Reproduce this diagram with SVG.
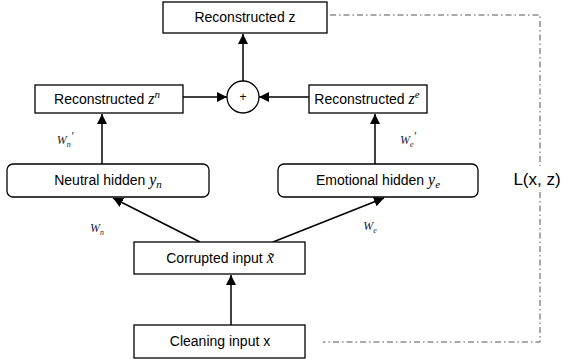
<svg xmlns="http://www.w3.org/2000/svg" width="562" height="362" viewBox="0 0 562 362">
<defs>
<marker id="ah" viewBox="0 0 10 10" refX="10" refY="5" markerWidth="10" markerHeight="10" markerUnits="userSpaceOnUse" orient="auto">
<path d="M0,0 L10,5 L0,10 Z" fill="#000"/>
</marker>
</defs>
<style>
.box{fill:#fff;stroke:#000;stroke-width:1.3}
.t{font-family:"Liberation Sans",Arial,sans-serif;font-size:14px;fill:#000;text-anchor:middle}
.m{font-family:"Liberation Serif","Times New Roman",serif;font-style:italic}
.lbl{font-family:"Liberation Serif","Times New Roman",serif;font-style:italic;font-size:12px;fill:#223;text-anchor:middle}
.c{stroke:#000;stroke-width:1.5;fill:none}
.dd{stroke:#555;stroke-width:1;fill:none;stroke-dasharray:6,3,1.5,3}
</style>
<g id="connectors">
<line class="c" x1="243" y1="81" x2="243" y2="34" marker-end="url(#ah)"/>
<line class="c" x1="183" y1="97" x2="227" y2="97" marker-end="url(#ah)"/>
<line class="c" x1="309" y1="97" x2="259" y2="97" marker-end="url(#ah)"/>
<line class="c" x1="102" y1="164" x2="102" y2="114" marker-end="url(#ah)"/>
<line class="c" x1="375" y1="164" x2="375" y2="114" marker-end="url(#ah)"/>
<line class="c" x1="200" y1="242" x2="113" y2="198" marker-end="url(#ah)"/>
<line class="c" x1="273" y1="242" x2="384" y2="198" marker-end="url(#ah)"/>
<line class="c" x1="231" y1="325" x2="231" y2="275" marker-end="url(#ah)"/>
<path class="dd" d="M330,15 H540 V166"/>
<path class="dd" d="M540,192 V342 H323"/>
</g>
<g id="recon-z"><rect class="box" x="163" y="2" width="164" height="31"/><text class="t" x="245" y="22">Reconstructed z</text></g>
<g id="plus"><circle class="box" cx="243" cy="97" r="16"/><text class="t" x="243" y="101" style="font-size:12px">+</text></g>
<g id="recon-zn"><rect class="box" x="35" y="85" width="148" height="28"/><text class="t" x="107" y="104">Reconstructed <tspan class="m" font-size="16">z</tspan><tspan class="m" font-size="11" dy="-6">n</tspan></text></g>
<g id="recon-ze"><rect class="box" x="309" y="85" width="118" height="28"/><text class="t" x="367" y="104">Reconstructed <tspan class="m" font-size="16">z</tspan><tspan class="m" font-size="11" dy="-6">e</tspan></text></g>
<g id="neutral"><rect class="box" x="7" y="164" width="202" height="33" rx="6"/><text class="t" x="108" y="185">Neutral hidden <tspan class="m" font-size="16">y</tspan><tspan class="m" font-size="11" dy="3">n</tspan></text></g>
<g id="emotional"><rect class="box" x="278" y="164" width="200" height="33" rx="6"/><text class="t" x="378" y="185">Emotional hidden <tspan class="m" font-size="16">y</tspan><tspan class="m" font-size="11" dy="3">e</tspan></text></g>
<g id="corrupted"><rect class="box" x="134" y="242" width="171" height="32"/><text class="t" x="220" y="263">Corrupted input <tspan class="m" font-size="16">x̃</tspan></text></g>
<g id="cleaning"><rect class="box" x="134" y="325" width="171" height="33"/><text class="t" x="220" y="346">Cleaning input x</text></g>
<text class="lbl" x="65" y="144">W<tspan font-size="8" dy="3">n</tspan><tspan dy="-7">′</tspan></text>
<text class="lbl" x="408" y="144">W<tspan font-size="8" dy="3">e</tspan><tspan dy="-7">′</tspan></text>
<text class="lbl" x="97" y="232">W<tspan font-size="8" dy="3">n</tspan></text>
<text class="lbl" x="370" y="230">W<tspan font-size="8" dy="3">e</tspan></text>
<text class="t" x="537" y="185" style="font-size:17px">L(x, z)</text>
</svg>
